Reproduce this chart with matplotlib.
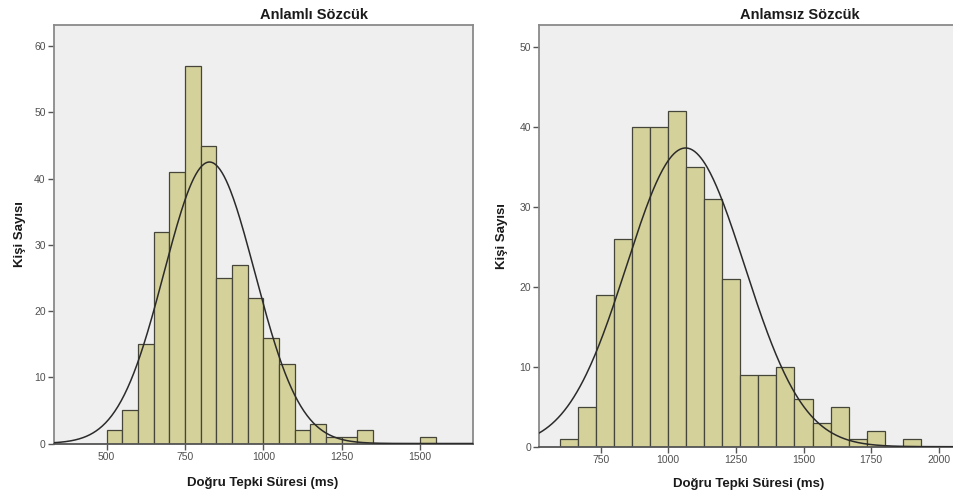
import numpy as np
import matplotlib
matplotlib.use("Agg")
import matplotlib.pyplot as plt

plt.rcParams['font.family'] = ['Liberation Sans', 'DejaVu Sans']

# Anlamlı Sözcük: bins of 50 ms starting at 500
left_start = 500
left_width = 50
left_counts = [2, 5, 15, 32, 41, 57, 45, 25, 27, 22, 16, 12, 2, 3, 1, 1, 2, 0, 0, 0, 1]
left_mean = 828
left_sd = 145

# Anlamsız Sözcük: bins of 66.7 ms starting at 600
right_start = 600
right_width = 200 / 3
right_counts = [1, 5, 19, 26, 40, 40, 42, 35, 31, 21, 9, 9, 10, 6, 3, 5, 1, 2, 0, 1]
right_mean = 1064
right_sd = 218

left_xticks = [500, 750, 1000, 1250, 1500]
right_xticks = [750, 1000, 1250, 1500, 1750, 2000]
left_yticks = [0, 10, 20, 30, 40, 50, 60]
right_yticks = [0, 10, 20, 30, 40, 50]

titles = ["Anlamlı Sözcük", "Anlamsız Sözcük"]
xlabel = "Doğru Tepki Süresi (ms)"
ylabel = "Kişi Sayısı"

BAR = "#d5d19b"
BG = "#efefef"
FRAME = "#8a8a8a"


def drawHist(ax, start, width, counts, mean, sd, xlim, ylim, xticks, yticks):
    edges = start + width * np.arange(len(counts))
    ax.bar(edges, counts, width=width, align="edge", color=BAR,
           edgecolor="#45453a", linewidth=0.9, zorder=2)
    n = sum(counts)
    xs = np.linspace(xlim[0], xlim[1], 400)
    ys = n * width / (sd * np.sqrt(2 * np.pi)) * np.exp(-0.5 * ((xs - mean) / sd) ** 2)
    ax.plot(xs, ys, color="#2b2b2b", linewidth=1.1, zorder=3)
    ax.set_xlim(xlim)
    ax.set_ylim(ylim)
    ax.set_xticks(xticks)
    ax.set_yticks(yticks)
    ax.set_facecolor(BG)
    for s in ax.spines.values():
        s.set_color(FRAME)
        s.set_linewidth(1.3)
    ax.spines["bottom"].set_color("#555555")
    ax.tick_params(direction="out", length=4, width=1, color="#555555",
                   labelsize=7.5, labelcolor="#505050", pad=2)


fig = plt.figure(figsize=(9.54, 4.99), dpi=100)

ax1 = fig.add_axes([54 / 954, 1 - 443.5 / 499, (473 - 54) / 954, (443.5 - 25) / 499])
drawHist(ax1, left_start, left_width, left_counts, left_mean, left_sd,
         (332, 1669), (0, 63.2), left_xticks, left_yticks)

ax2 = fig.add_axes([539.5 / 954, 1 - 446.7 / 499, (955 - 539.5) / 954, (446.7 - 25) / 499])
drawHist(ax2, right_start, right_width, right_counts, right_mean, right_sd,
         (524, 2060), (0, 52.7), right_xticks, right_yticks)
ax2.spines["right"].set_visible(False)

fig.text(314 / 954, 1 - 15 / 499, titles[0], ha="center", va="center",
         fontsize=10.5, fontweight="bold", color="#1a1a1a")
fig.text(800 / 954, 1 - 15 / 499, titles[1], ha="center", va="center",
         fontsize=10.5, fontweight="bold", color="#1a1a1a")

fig.text(263 / 954, 1 - 483 / 499, xlabel, ha="center", va="center",
         fontsize=9.5, fontweight="bold", color="#1a1a1a")
fig.text(749 / 954, 1 - 484 / 499, xlabel, ha="center", va="center",
         fontsize=9.5, fontweight="bold", color="#1a1a1a")

fig.text(20 / 954, 1 - 234 / 499, ylabel, ha="center", va="center", rotation=90,
         fontsize=9.5, fontweight="bold", color="#1a1a1a")
fig.text(502 / 954, 1 - 236 / 499, ylabel, ha="center", va="center", rotation=90,
         fontsize=9.5, fontweight="bold", color="#1a1a1a")

fig.savefig("out.png", dpi=100)
